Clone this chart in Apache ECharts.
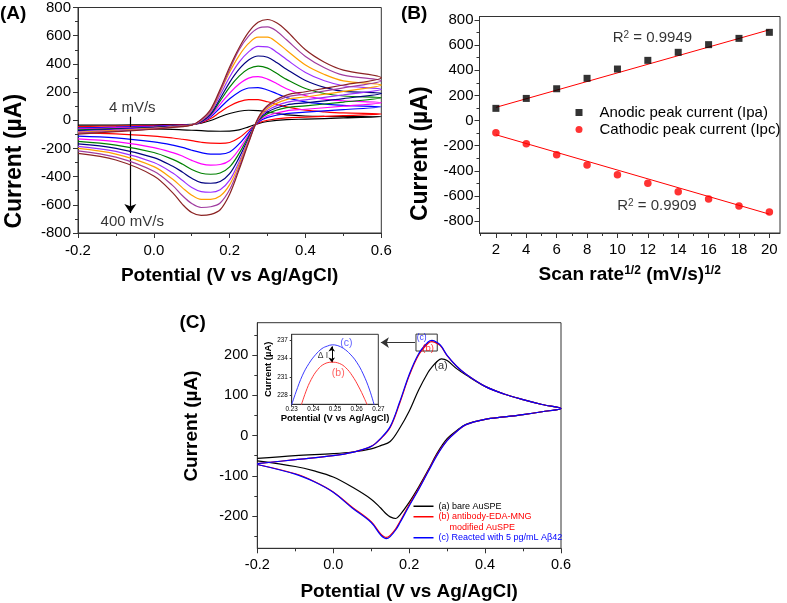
<!DOCTYPE html>
<html><head><meta charset="utf-8">
<script src="https://cdn.jsdelivr.net/npm/echarts@6/dist/echarts.min.js"></script>
<style>html,body{margin:0;padding:0;background:#fff}#c{width:787px;height:603px}</style>
</head><body><div id="c"></div>
<script>
// ---------------- Panel A : CVs at different scan rates ----------------
const scanRates = ['4', '16', '36', '64', '100', '144', '196', '256', '324', '400']; // mV/s
const cvFwdE = [-0.2, -0.1, 0, 0.05, 0.1, 0.125, 0.15, 0.175, 0.2, 0.225, 0.25, 0.275, 0.3, 0.325, 0.35, 0.4, 0.45, 0.5, 0.6];
const cvRevE = [0.6, 0.5, 0.4, 0.35, 0.3, 0.275, 0.25, 0.225, 0.2, 0.175, 0.15, 0.125, 0.1, 0.075, 0.05, 0, -0.1, -0.2];
const fwd4   = [-35, -34, -32, -31, -29, -21, -2, 25, 48, 64, 71, 68, 58, 47, 38, 30, 27, 26, 25];
const fwd16  = [-45, -41, -37, -34, -31, -17, 12, 58, 101, 132, 147, 146, 131, 112, 95, 72, 60, 52, 45];
const fwd36  = [-55, -49, -42, -37, -31, -14, 24, 89, 152, 201, 229, 232, 215, 188, 161, 130, 115, 105, 95];
const fwd64  = [-62, -54, -46, -40, -32, -13, 34, 113, 193, 257, 299, 309, 292, 259, 224, 175, 150, 138, 125];
const fwd100 = [-68, -60, -49, -41, -32, -10, 40, 137, 235, 313, 365, 384, 370, 331, 290, 225, 190, 172, 160];
const fwd144 = [-74, -63, -52, -43, -33, -9, 46, 154, 269, 362, 427, 456, 447, 408, 362, 282, 233, 205, 190];
const fwd196 = [-80, -68, -55, -45, -33, -4, 57, 179, 307, 412, 485, 524, 521, 481, 431, 339, 280, 245, 220];
const fwd256 = [-86, -72, -58, -47, -33, 0, 64, 201, 342, 459, 545, 590, 590, 552, 497, 392, 325, 280, 250];
const fwd324 = [-92, -77, -61, -49, -34, 3, 70, 208, 360, 500, 597, 653, 662, 630, 571, 453, 373, 320, 280];
const fwd400 = [-98, -81, -64, -50, -35, 6, 78, 220, 378, 515, 625, 695, 715, 690, 635, 500, 412, 356, 302];
const rev4   = [25, 16, 8, 4, -9, -24, -47, -68, -77, -78, -77, -74, -71, -68, -65, -62, -57, -55];
const rev16  = [45, 33, 22, 17, 0, -21, -70, -125, -158, -164, -163, -156, -145, -135, -126, -113, -97, -90];
const rev36  = [95, 75, 57, 48, 20, -14, -88, -168, -225, -240, -241, -230, -213, -193, -177, -154, -125, -112];
const rev64  = [125, 100, 78, 67, 32, -10, -104, -206, -285, -314, -318, -309, -285, -254, -230, -194, -152, -132];
const rev100 = [160, 129, 102, 89, 47, -5, -115, -235, -331, -374, -383, -376, -350, -311, -278, -229, -176, -150];
const rev144 = [190, 154, 123, 108, 59, -1, -127, -265, -379, -434, -447, -442, -412, -367, -327, -265, -199, -168];
const rev196 = [220, 180, 144, 127, 71, 3, -139, -294, -425, -493, -511, -506, -477, -426, -375, -300, -221, -185];
const rev256 = [250, 205, 165, 146, 84, 7, -146, -312, -457, -538, -561, -562, -532, -478, -419, -329, -240, -200];
const rev324 = [280, 230, 186, 165, 96, 12, -154, -332, -492, -587, -614, -619, -591, -534, -464, -362, -262, -217];
const rev400 = [302, 250, 202, 178, 105, 15, -160, -350, -525, -635, -668, -675, -655, -595, -515, -395, -282, -235];
const cvForward = [fwd4, fwd16, fwd36, fwd64, fwd100, fwd144, fwd196, fwd256, fwd324, fwd400];
const cvReverse = [rev4, rev16, rev36, rev64, rev100, rev144, rev196, rev256, rev324, rev400];

// ---------------- Panel B : peak current vs sqrt(scan rate) ----------------
const sqrtRate = [2, 4, 6, 8, 10, 12, 14, 16, 18, 20];
const ipa = [97, 176, 253, 336, 410, 479, 543, 604, 654, 702];
const ipc = [-97, -184, -272, -354, -431, -500, -566, -624, -680, -728];
const fitX = [2, 20];
const fitIpa = [105, 722];
const fitIpc = [-113, -745];
const r2Ipa = '0.9949';
const r2Ipc = '0.9909';
const bXTicks = [2, 4, 6, 8, 10, 12, 14, 16, 18, 20];
const bXMinor = [1, 3, 5, 7, 9, 11, 13, 15, 17, 19];
const bYTicks = [-800, -600, -400, -200, 0, 200, 400, 600, 800];
const bYMinor = [-700, -500, -300, -100, 100, 300, 500, 700];

// ---------------- Panel C : electrode comparison ----------------
const cFwdE = [-0.2, -0.1, 0, 0.05, 0.1, 0.125, 0.15, 0.175, 0.2, 0.225, 0.25, 0.26, 0.275, 0.285, 0.3, 0.325, 0.35, 0.4, 0.45, 0.5, 0.55, 0.6];
const cRevE = [0.6, 0.55, 0.5, 0.45, 0.4, 0.35, 0.325, 0.3, 0.275, 0.25, 0.225, 0.2, 0.175, 0.165, 0.15, 0.14, 0.125, 0.1, 0.05, 0, -0.05, -0.1, -0.2];
const bareFwd  = [-57, -50, -45, -41, -33, -25, -15, 18, 60, 113, 157, 170, 185, 190, 186, 166, 150, 122, 103, 89, 77, 67];
const bareRev  = [67, 59, 52, 46, 40, 28, 12, -8, -42, -86, -128, -166, -198, -206, -202, -195, -180, -158, -128, -103, -88, -77, -63];
const abFwd    = [-70, -60, -50, -42, -27, -8, 20, 80, 148, 200, 229, 233, 228, 220, 198, 172, 152, 122, 103, 89, 77, 67];
const abRev    = [67, 59, 52, 46, 40, 27, 10, -12, -45, -88, -132, -172, -215, -231, -248, -253, -244, -214, -178, -140, -114, -95, -72];
const abetaFwd = [-70, -60, -50, -42, -27, -7, 22, 83, 151, 203, 232, 236, 230, 221, 199, 172, 152, 122, 103, 89, 77, 67];
const abetaRev = [67, 59, 52, 46, 40, 27, 10, -13, -47, -90, -134, -175, -218, -234, -251, -256, -247, -216, -180, -141, -115, -96, -72];
const cYTicks = [-200, -100, 0, 100, 200];
const cYMinor = [-250, -150, -50, 50, 150, 250];
const cLegend = ['(a) bare AuSPE', '(b) antibody-EDA-MNG', 'modified AuSPE', '(c) Reacted with 5 pg/mL A\u03b242'];

// inset (peak region)
const insetCE = [0.2295, 0.232, 0.235, 0.238, 0.241, 0.244, 0.2465, 0.2487, 0.251, 0.254, 0.257, 0.26, 0.263, 0.266, 0.2685];
const insetCI = [226.0, 228.6, 231.3, 233.2, 234.6, 235.6, 236.0, 236.2, 236.1, 235.6, 234.7, 233.4, 231.5, 228.9, 226.0];
const insetBE = [0.234, 0.2365, 0.239, 0.242, 0.245, 0.2486, 0.252, 0.255, 0.258, 0.261, 0.2635, 0.2655];
const insetBI = [226.0, 228.6, 230.6, 232.2, 233.1, 233.4, 233.2, 232.5, 231.2, 229.4, 227.6, 226.0];
const insetXTicks = [0.23, 0.24, 0.25, 0.26, 0.27];
const insetYTicks = [228, 231, 234, 237];

// ---------------- styles ----------------
const SANS = '"Liberation Sans", Arial, sans-serif';
const AX = '#333';
const cvColors = ['#000000', '#ff0000', '#0000ff', '#ff00ff', '#008000', '#000080', '#9b30ff', '#ffa000', '#a03ca0', '#8b2323'];

const pairs = (xs, ys) => xs.map((x, i) => [x, ys[i]]);

function axis(o) {
  const a = {
    type: 'value', gridIndex: o.grid, min: o.min, max: o.max, position: o.pos,
    axisLine: { show: o.line !== false, onZero: false, lineStyle: { color: AX, width: 1 } },
    axisTick: { show: true, inside: false, length: o.tickLen || 5, lineStyle: { color: AX, width: 1 } },
    axisLabel: { show: o.labels !== false, color: '#000', fontFamily: SANS, fontSize: o.fs || 15, margin: o.margin == null ? 8 : o.margin },
    splitLine: { show: false },
    axisPointer: { show: false }
  };
  if (o.fmt) a.axisLabel.formatter = o.fmt;
  if (o.interval != null) a.interval = o.interval;
  if (o.ticks) { a.axisTick.customValues = o.ticks; a.axisLabel.customValues = o.ticks; }
  if (o.minor) a.minorTick = { show: true, splitNumber: 2, length: 3, lineStyle: { color: AX, width: 1 } };
  if (o.name) {
    a.name = o.name; a.nameLocation = 'middle'; a.nameGap = o.nameGap;
    a.nameTextStyle = { fontFamily: SANS, fontWeight: 'bold', fontSize: o.nameFs || 19, color: '#000', rich: o.rich };
    if (o.namePad) a.nameTextStyle.padding = o.namePad;
  }
  return a;
}

function notes(xi, yi, items, extra) {
  return Object.assign({
    type: 'scatter', xAxisIndex: xi, yAxisIndex: yi, symbolSize: 0, silent: true, z: 10,
    itemStyle: { color: 'rgba(0,0,0,0)' },
    data: items.map(it => ({
      value: [it.x, it.y],
      label: { show: true, position: 'inside', formatter: it.t, color: it.c || '#000', fontSize: it.fs || 15,
               fontFamily: SANS, rich: it.rich, textBorderWidth: 0, textBorderColor: 'rgba(0,0,0,0)',
               textShadowBlur: 0 }
    }))
  }, extra || {});
}

const supRich = (fs, col) => ({ s: { fontSize: fs, verticalAlign: 'top', fontFamily: SANS, color: col || '#000' } });

const series = [];
// Panel A curves
cvForward.forEach((f, k) => {
  series.push({
    name: scanRates[k] + ' mV/s', type: 'line', xAxisIndex: 0, yAxisIndex: 0,
    data: pairs(cvFwdE, f).concat(pairs(cvRevE, cvReverse[k])),
    symbol: 'none', smooth: 0.35, color: cvColors[k], lineStyle: { width: 1.2, color: cvColors[k] }, z: 2 + k
  });
});
series.push(notes(0, 0, [
  { x: -0.057, y: 88, t: scanRates[0] + ' mV/s' },
  { x: -0.057, y: -722, t: scanRates[9] + ' mV/s' }
], {
  markLine: {
    silent: true, symbol: ['none', 'arrow'], symbolSize: 9, label: { show: false },
    lineStyle: { color: '#000', width: 1.2, type: 'solid' },
    data: [[{ coord: [-0.062, 25] }, { coord: [-0.062, -658] }]]
  }
}));

// Panel B
series.push({ name: 'Anodic peak current (Ipa)', type: 'scatter', xAxisIndex: 1, yAxisIndex: 1,
  data: pairs(sqrtRate, ipa), symbol: 'rect', symbolSize: 7, itemStyle: { color: '#000' }, z: 5 });
series.push({ name: 'Cathodic peak current (Ipc)', type: 'scatter', xAxisIndex: 1, yAxisIndex: 1,
  data: pairs(sqrtRate, ipc), symbol: 'circle', symbolSize: 7.5, itemStyle: { color: '#ff0000' }, z: 5 });
series.push({ name: 'fitA', type: 'line', xAxisIndex: 1, yAxisIndex: 1, data: pairs(fitX, fitIpa),
  symbol: 'none', lineStyle: { color: '#ff0000', width: 1 }, z: 3 });
series.push({ name: 'fitC', type: 'line', xAxisIndex: 1, yAxisIndex: 1, data: pairs(fitX, fitIpc),
  symbol: 'none', lineStyle: { color: '#ff0000', width: 1 }, z: 3 });
series.push(notes(1, 1, [
  { x: 12.3, y: 657, t: 'R{s|2} = ' + r2Ipa, rich: supRich(10) },
  { x: 12.6, y: -678, t: 'R{s|2} = ' + r2Ipc, rich: supRich(10) }
]));

// Panel C
const cCols = ['#000000', '#ff0000', '#0000ff'];
series.push({ name: cLegend[0], type: 'line', xAxisIndex: 3, yAxisIndex: 3,
  data: pairs(cFwdE, bareFwd).concat(pairs(cRevE, bareRev)), symbol: 'none', smooth: 0.35,
  color: cCols[0], lineStyle: { width: 1.2, color: cCols[0] }, z: 3 });
series.push({ name: cLegend[1], type: 'line', xAxisIndex: 3, yAxisIndex: 3,
  data: pairs(cFwdE, abFwd).concat(pairs(cRevE, abRev)), symbol: 'none', smooth: 0.35,
  color: cCols[1], lineStyle: { width: 1.2, color: cCols[1] }, z: 4 });
series.push({ name: cLegend[2], type: 'line', xAxisIndex: 3, yAxisIndex: 3, data: [], color: cCols[1] });
series.push({ name: cLegend[3], type: 'line', xAxisIndex: 3, yAxisIndex: 3,
  data: pairs(cFwdE, abetaFwd).concat(pairs(cRevE, abetaRev)), symbol: 'none', smooth: 0.35,
  color: cCols[2], lineStyle: { width: 1.2, color: cCols[2] }, z: 5 });
series.push(notes(3, 3, [
  { x: 0.284, y: 172, t: '(a)', fs: 11 },
  { x: 0.25, y: 217, t: '(b)', fs: 9.5, c: cCols[1] },
  { x: 0.233, y: 243.6, t: '(c)', fs: 8.6, c: cCols[2] }
], {
  markArea: { silent: true, itemStyle: { color: 'rgba(0,0,0,0)', borderColor: '#333', borderWidth: 1 },
    data: [[{ coord: [0.218, 251.7] }, { coord: [0.274, 209.7] }]] },
  markLine: { silent: true, symbol: ['none', 'arrow'], symbolSize: 8, label: { show: false },
    lineStyle: { color: '#333', width: 1.2, type: 'solid' },
    data: [[{ coord: [0.2155, 230.7] }, { coord: [0.1255, 230.7] }]] }
}));

// Inset
series.push({ name: 'insetC', type: 'line', xAxisIndex: 4, yAxisIndex: 5, data: pairs(insetCE, insetCI),
  symbol: 'none', smooth: 0.4, lineStyle: { color: '#3b3bff', width: 1 }, z: 6 });
series.push({ name: 'insetB', type: 'line', xAxisIndex: 4, yAxisIndex: 5, data: pairs(insetBE, insetBI),
  symbol: 'none', smooth: 0.4, lineStyle: { color: '#ff3b3b', width: 1 }, z: 6 });
series.push(notes(4, 5, [
  { x: 0.2552, y: 236.5, t: '(c)', fs: 10.5, c: '#3b3bff' },
  { x: 0.2515, y: 231.6, t: '(b)', fs: 10.5, c: '#ff3b3b' },
  { x: 0.2444, y: 234.5, t: '\u0394 I', fs: 8.5 }
], {
  markLine: { silent: true, symbol: ['arrow', 'arrow'], symbolSize: 5, label: { show: false },
    lineStyle: { color: '#000', width: 1, type: 'solid' },
    data: [[{ coord: [0.2485, 235.95] }, { coord: [0.2485, 233.35] }]] }
}));

const titleStyle = { fontFamily: SANS, fontWeight: 'bold', fontSize: 19, color: '#000' };
const option = {
  animation: false,
  backgroundColor: '#fff',
  title: [
    { text: '(A)', left: 0, top: 4, padding: 0, textStyle: titleStyle },
    { text: '(B)', left: 401, top: 4, padding: 0, textStyle: titleStyle },
    { text: '(C)', left: 179.5, top: 313, padding: 0, textStyle: titleStyle }
  ],
  legend: [
    { data: [{ name: 'Anodic peak current (Ipa)', icon: 'rect' }, { name: 'Cathodic peak current (Ipc)', icon: 'circle' }],
      orient: 'vertical', left: 575.5, top: 105, padding: 0, itemWidth: 7, itemHeight: 7, itemGap: 2, selectedMode: false,
      textStyle: { fontFamily: SANS, fontSize: 15, color: '#000', padding: [0, 0, 0, 12] } },
    { data: [
        { name: cLegend[0], icon: 'rect', textStyle: { color: '#000' } },
        { name: cLegend[1], icon: 'rect', textStyle: { color: '#ff0000' } },
        { name: cLegend[2], icon: 'none', textStyle: { color: '#ff0000', padding: [0, 0, 0, 11] } },
        { name: cLegend[3], icon: 'rect', textStyle: { color: '#0000ff' } }
      ],
      orient: 'vertical', left: 413.5, top: 501, padding: 0, itemWidth: 20, itemHeight: 1.5, itemGap: 0, selectedMode: false,
      textStyle: { fontFamily: SANS, fontSize: 9, lineHeight: 10.5 } }
  ],
  grid: [
    { left: 78, top: 7.3, width: 303.3, height: 225.7, show: true, borderColor: AX, borderWidth: 1, backgroundColor: 'rgba(0,0,0,0)' },
    { left: 479.5, top: 16.5, width: 300.5, height: 216.5, show: true, borderColor: AX, borderWidth: 1, backgroundColor: 'rgba(0,0,0,0)' },
    { left: 257.3, top: 322.7, width: 303.7, height: 225.6, show: true, borderColor: AX, borderWidth: 1, backgroundColor: 'rgba(0,0,0,0)' },
    { left: 291.7, top: 334.3, width: 86.6, height: 70, show: true, borderColor: AX, borderWidth: 1, backgroundColor: '#fff' }
  ],
  xAxis: [
    axis({ grid: 0, min: -0.2, max: 0.6, interval: 0.2, pos: 'bottom', minor: true, margin: 10, fmt: v => v.toFixed(1),
           name: 'Potential (V vs Ag/AgCl)', nameGap: 33 }),
    axis({ grid: 1, min: 0.92, max: 20.7, pos: 'bottom', ticks: bXTicks, margin: 9,
           name: 'Scan rate{s|1/2} (mV/s){s|1/2}', nameGap: 32,
           rich: { s: { fontSize: 12, fontWeight: 'bold', verticalAlign: 'top', fontFamily: SANS, color: '#000' } } }),
    axis({ grid: 1, min: 0.92, max: 20.7, pos: 'bottom', ticks: bXMinor, tickLen: 3, labels: false, line: false }),
    axis({ grid: 2, min: -0.2, max: 0.6, interval: 0.2, pos: 'bottom', minor: true, fs: 14.5, margin: 9, fmt: v => v.toFixed(1),
           name: 'Potential (V vs Ag/AgCl)', nameGap: 34 }),
    axis({ grid: 3, min: 0.23, max: 0.27, pos: 'bottom', ticks: insetXTicks, tickLen: 2, fs: 6.3, margin: 2, fmt: v => v.toFixed(2),
           name: 'Potential (V vs Ag/AgCl)', nameGap: 9, nameFs: 9.5 })
  ],
  yAxis: [
    axis({ grid: 0, min: -800, max: 800, interval: 200, pos: 'left', minor: true, margin: 7,
           name: 'Current (\u00b5A)', nameGap: 52, nameFs: 23, namePad: [0, 82, 0, 0] }),
    axis({ grid: 1, min: -895, max: 828, pos: 'left', ticks: bYTicks, margin: 6,
           name: 'Current (\u00b5A)', nameGap: 47, nameFs: 23, namePad: [0, 58, 0, 0] }),
    axis({ grid: 1, min: -895, max: 828, pos: 'left', ticks: bYMinor, tickLen: 3, labels: false, line: false }),
    axis({ grid: 2, min: -280, max: 280, pos: 'left', ticks: cYTicks, fs: 14.5, margin: 9,
           name: 'Current (\u00b5A)', nameGap: 56, namePad: [0, 0, 0, 19] }),
    axis({ grid: 2, min: -280, max: 280, pos: 'left', ticks: cYMinor, tickLen: 3, labels: false, line: false }),
    axis({ grid: 3, min: 226.6, max: 237.9, pos: 'left', ticks: insetYTicks, tickLen: 2, fs: 6.3, margin: 4,
           name: 'Current (\u00b5A)', nameGap: 17, nameFs: 9.5 })
  ],
  series: series
};

const chart = echarts.init(document.getElementById('c'), null, { renderer: 'canvas' });
chart.setOption(option);
</script></body></html>
